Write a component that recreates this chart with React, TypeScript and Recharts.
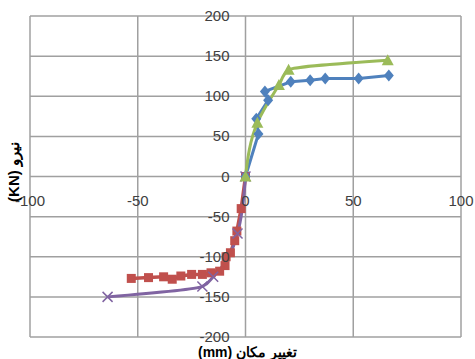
import React from 'react';
import { LineChart, Line, XAxis, YAxis, CartesianGrid } from 'recharts';

const X_TICKS = [-100, -50, 0, 50, 100];
const Y_TICKS = [-200, -150, -100, -50, 0, 50, 100, 150, 200];

// blue diamonds
const blueX = [0, 6, 5, 10.5, 9, 21, 30, 37, 52.5, 66.5];
const blueY = [0, 53, 72, 95, 106, 118, 120, 122, 122, 126];
// green triangles
const greenX = [0, 5.5, 15.5, 20, 66];
const greenY = [0, 67, 114, 133, 145];
// red squares
const redX = [0, -2, -4, -5, -7, -9, -9.5, -12, -16, -20, -25, -30, -34, -38, -45, -53];
const redY = [0, -40, -68, -80, -95, -100, -111, -118, -120, -122, -122, -124, -128, -125, -126, -127];
// purple crosses
const purpleX = [0, -3.7, -15, -20, -64];
const purpleY = [0, -71, -125, -137, -150];

const toRows = (xs: number[], ys: number[]) => xs.map((x, i) => ({ x, y: ys[i] }));

const W = 475;
const H = 359;
// axes take 1px each, so margins are one less than the plot offsets
const M = { top: 16, right: 14, bottom: 21, left: 29 };
const PLOT_W = W - 30 - 14;
const PLOT_H = H - 16 - 22;
const ZERO_X = 30 + PLOT_W / 2;
const ZERO_Y = 16 + PLOT_H / 2;

const FONT = '"Liberation Sans", Arial, sans-serif';
const TICK_COLOR = '#404040';
const GRID = '#a0a0a0';

const renderYTick = (props: any) => (
  <text key={props.index} x={ZERO_X - 16} y={props.y} dy={5} textAnchor="end" fontSize={15} fontFamily={FONT} fill={TICK_COLOR}>
    {props.payload.value}
  </text>
);

const renderXTick = (props: any) => (
  <text key={props.index} x={props.x} y={ZERO_Y + 24} dy={5} textAnchor="middle" fontSize={15} fontFamily={FONT} fill={TICK_COLOR}>
    {props.payload.value}
  </text>
);

const Diamond = ({ cx, cy, key }: any) => (
  <path key={key} d={`M${cx},${cy - 6} L${cx + 5},${cy} L${cx},${cy + 6} L${cx - 5},${cy} Z`} fill="#4f81bd" />
);
const Triangle = ({ cx, cy, key }: any) => (
  <path key={key} d={`M${cx},${cy - 6} L${cx + 6},${cy + 5} L${cx - 6},${cy + 5} Z`} fill="#9bbb59" />
);
const Square = ({ cx, cy, key }: any) => (
  <rect key={key} x={cx - 4.5} y={cy - 4.5} width={9} height={9} fill="#c0504d" />
);
const Cross = ({ cx, cy, key }: any) => (
  <path key={key} d={`M${cx - 5},${cy - 5} L${cx + 5},${cy + 5} M${cx + 5},${cy - 5} L${cx - 5},${cy + 5}`} stroke="#8064a2" strokeWidth={1.5} fill="none" />
);

export default function App() {
  return (
    <div style={{ position: 'absolute', left: 0, top: 0, background: '#fff' }}>
      <LineChart width={W} height={H} margin={M}>
        <CartesianGrid stroke={GRID} strokeWidth={1.5} horizontalValues={Y_TICKS} verticalValues={X_TICKS} />
        <XAxis type="number" dataKey="x" domain={[-100, 100]} ticks={X_TICKS} height={1} axisLine={false} tickLine={false} tick={renderXTick} interval={0} />
        <YAxis type="number" dataKey="y" domain={[-200, 200]} ticks={Y_TICKS} width={1} axisLine={false} tickLine={false} tick={renderYTick} interval={0} />
        <Line data={toRows(redX, redY)} dataKey="y" type="linear" stroke="#c0504d" strokeWidth={3.5} dot={Square} isAnimationActive={false} />
        <Line data={toRows(purpleX, purpleY)} dataKey="y" type="monotoneY" stroke="#8064a2" strokeWidth={3} dot={Cross} isAnimationActive={false} />
        <Line data={toRows(blueX, blueY)} dataKey="y" type="linear" stroke="#4f81bd" strokeWidth={3} dot={Diamond} isAnimationActive={false} />
        <Line data={toRows(greenX, greenY)} dataKey="y" type="monotoneY" stroke="#9bbb59" strokeWidth={3} dot={Triangle} isAnimationActive={false} />
        <text x={ZERO_X + 2} y={357} textAnchor="middle" fontSize={14} fontWeight="bold" fontFamily={FONT} fill="#000">
          (mm) تغییر مکان
        </text>
        <text x={14} y={172} transform="rotate(-90 14 172)" textAnchor="middle" dy={5} fontSize={15} fontWeight="bold" fontFamily={FONT} fill="#000">
          (KN) نیرو
        </text>
      </LineChart>
    </div>
  );
}
